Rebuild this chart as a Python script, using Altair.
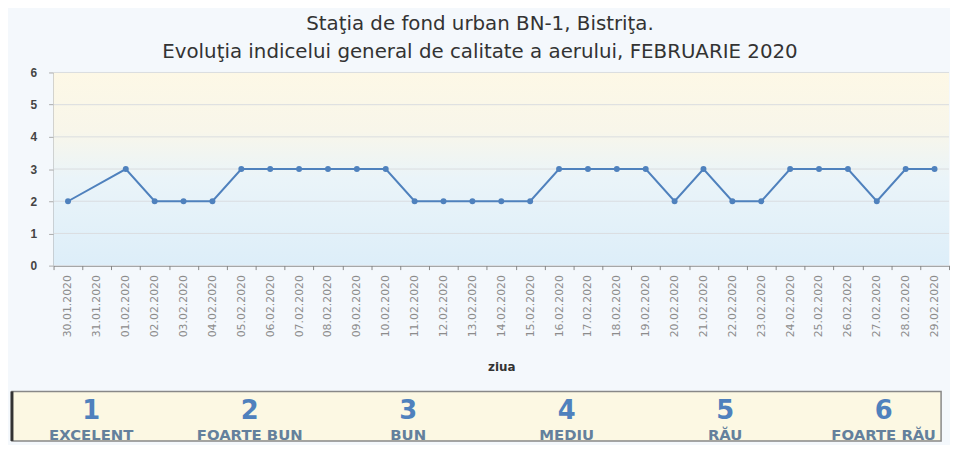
import altair as alt
import pandas as pd

# ---- data ----
dates = ["30.01.2020", "31.01.2020"] + [f"{d:02d}.02.2020" for d in range(1, 30)]
values = [2, None, 3, 2, 2, 2, 3, 3, 3, 3, 3, 3, 2, 2, 2, 2, 2,
          3, 3, 3, 3, 2, 3, 2, 2, 3, 3, 3, 2, 3, 3]
y_ticks = [0, 1, 2, 3, 4, 5, 6]
levels = [1, 2, 3, 4, 5, 6]
level_names = ["EXCELENT", "FOARTE BUN", "BUN", "MEDIU", "RĂU", "FOARTE RĂU"]

df = pd.DataFrame({"zi": dates, "v": values})
valid = df[df["v"].notna()]
grid_df = pd.DataFrame({"t": y_ticks})
bg_df = pd.DataFrame({"lo": [y_ticks[0]], "hi": [y_ticks[-1]]})
num_df = pd.DataFrame({"lvl": levels, "txt": [str(l) for l in levels], "row": ["num"] * 6})
name_df = pd.DataFrame({"lvl": levels, "txt": level_names, "row": ["name"] * 6})

FONT = "DejaVu Sans"
W = 904
H = 195

# legend box geometry (pixel ranges relative to the plot area)
LEG_LEFT, LEG_W = -42, 938
LEG_TOP, LEG_BOT = 322, 372
STEP = 160
lx_dom = [levels[0] - 0.5, levels[0] - 0.5 + LEG_W / STEP]
box_df = pd.DataFrame({"x0": [lx_dom[0]], "x1": [lx_dom[1]], "y0": [0], "y1": [1]})

xscale = alt.Scale(type="band", domain=dates, paddingInner=0, paddingOuter=0)
yscale = alt.Scale(domain=[0, 6], nice=False)

xaxis = alt.Axis(title="ziua", labelAngle=-90, labelFont=FONT, labelFontSize=11,
                 labelColor="#8c8c8c", labelPadding=5, tickBand="extent", tickSize=4,
                 tickColor="#888", domainColor="#666", titleFont=FONT, titleFontSize=12,
                 titleFontWeight="bold", titleColor="#333", titlePadding=25, grid=False,
                 labelOverlap=False)
yaxis = alt.Axis(title=None, values=y_ticks, labelFont="Liberation Sans", labelFontSize=12,
                 labelFontWeight="bold", labelColor="#444", labelPadding=12, tickSize=5,
                 tickColor="#aaa", domainColor="#666", grid=False, labelOverlap=False)

bg = alt.Chart(bg_df).mark_rect(
    fill=alt.Gradient(gradient="linear", x1=0, y1=0, x2=0, y2=1,
                      stops=[alt.GradientStop(color="#fdf8e6", offset=0),
                             alt.GradientStop(color="#f8f6ea", offset=0.3),
                             alt.GradientStop(color="#eaf4f9", offset=0.55),
                             alt.GradientStop(color="#ddeef9", offset=1)])
).encode(y=alt.Y("hi:Q", scale=yscale, axis=yaxis), y2="lo:Q")

grid = alt.Chart(grid_df).mark_rule(color="#dadde0", strokeWidth=1).encode(
    y=alt.Y("t:Q", scale=yscale, axis=yaxis))

line = alt.Chart(valid).mark_line(color="#4f81bd", strokeWidth=2).encode(
    x=alt.X("zi:N", scale=xscale, axis=xaxis, bandPosition=0.5),
    y=alt.Y("v:Q", scale=yscale, axis=yaxis))
pts = alt.Chart(valid).mark_point(filled=True, color="#4f81bd", size=36, opacity=1).encode(
    x=alt.X("zi:N", scale=xscale, axis=xaxis, bandPosition=0.5),
    y=alt.Y("v:Q", scale=yscale, axis=yaxis))

main = alt.layer(bg, grid, line, pts)

# legend (separate scales)
lx = alt.Scale(domain=lx_dom, range=[LEG_LEFT, LEG_LEFT + LEG_W], nice=False, zero=False)
box_y = alt.Scale(domain=[0, 1], range=[LEG_BOT, LEG_TOP], nice=False, zero=False)
row_y = alt.Scale(type="point", domain=["num", "name"], range=[LEG_TOP + 20, LEG_TOP + 44],
                  padding=0)

box = alt.Chart(box_df).mark_rect(fill="#fcf8e3", stroke="#888", strokeWidth=1.5).encode(
    x=alt.X("x0:Q", scale=lx, axis=None), x2="x1:Q",
    y=alt.Y("y0:Q", scale=box_y, axis=None), y2="y1:Q")
box_left = alt.Chart(box_df).mark_rule(color="#333", strokeWidth=3).encode(
    x=alt.X("x0:Q", scale=lx, axis=None),
    y=alt.Y("y0:Q", scale=box_y, axis=None), y2="y1:Q")
box_layer = alt.layer(box, box_left)

nums = alt.Chart(num_df).mark_text(font="DejaVu Sans", fontSize=26, fontWeight="bold",
                                   color="#4f81bd").encode(
    x=alt.X("lvl:Q", scale=lx, axis=None), y=alt.Y("row:N", scale=row_y, axis=None),
    text="txt:N")
names = alt.Chart(name_df).mark_text(font="DejaVu Sans", fontSize=15, fontWeight="bold",
                                     color="#64809c").encode(
    x=alt.X("lvl:Q", scale=lx, axis=None), y=alt.Y("row:N", scale=row_y, axis=None),
    text="txt:N")

chart = alt.layer(main, box_layer, nums, names).resolve_scale(
    x="independent", y="independent"
).properties(
    width=W, height=H,
    view=alt.ViewBackground(stroke=None),
    title=alt.TitleParams(
        text=["Staţia de fond urban BN-1, Bistriţa.",
              "Evoluţia indicelui general de calitate a aerului,  FEBRUARIE 2020"],
        font=FONT, fontSize=20, fontWeight="normal", color="#333333",
        lineHeight=28, anchor="middle", frame="bounds", offset=5),
    padding={"left": 2, "top": 4, "right": 0, "bottom": 0},
    background="#f4f8fc",
).configure_view(stroke=None)

chart.save("out.html", embed_options={"renderer": "svg", "actions": False})
